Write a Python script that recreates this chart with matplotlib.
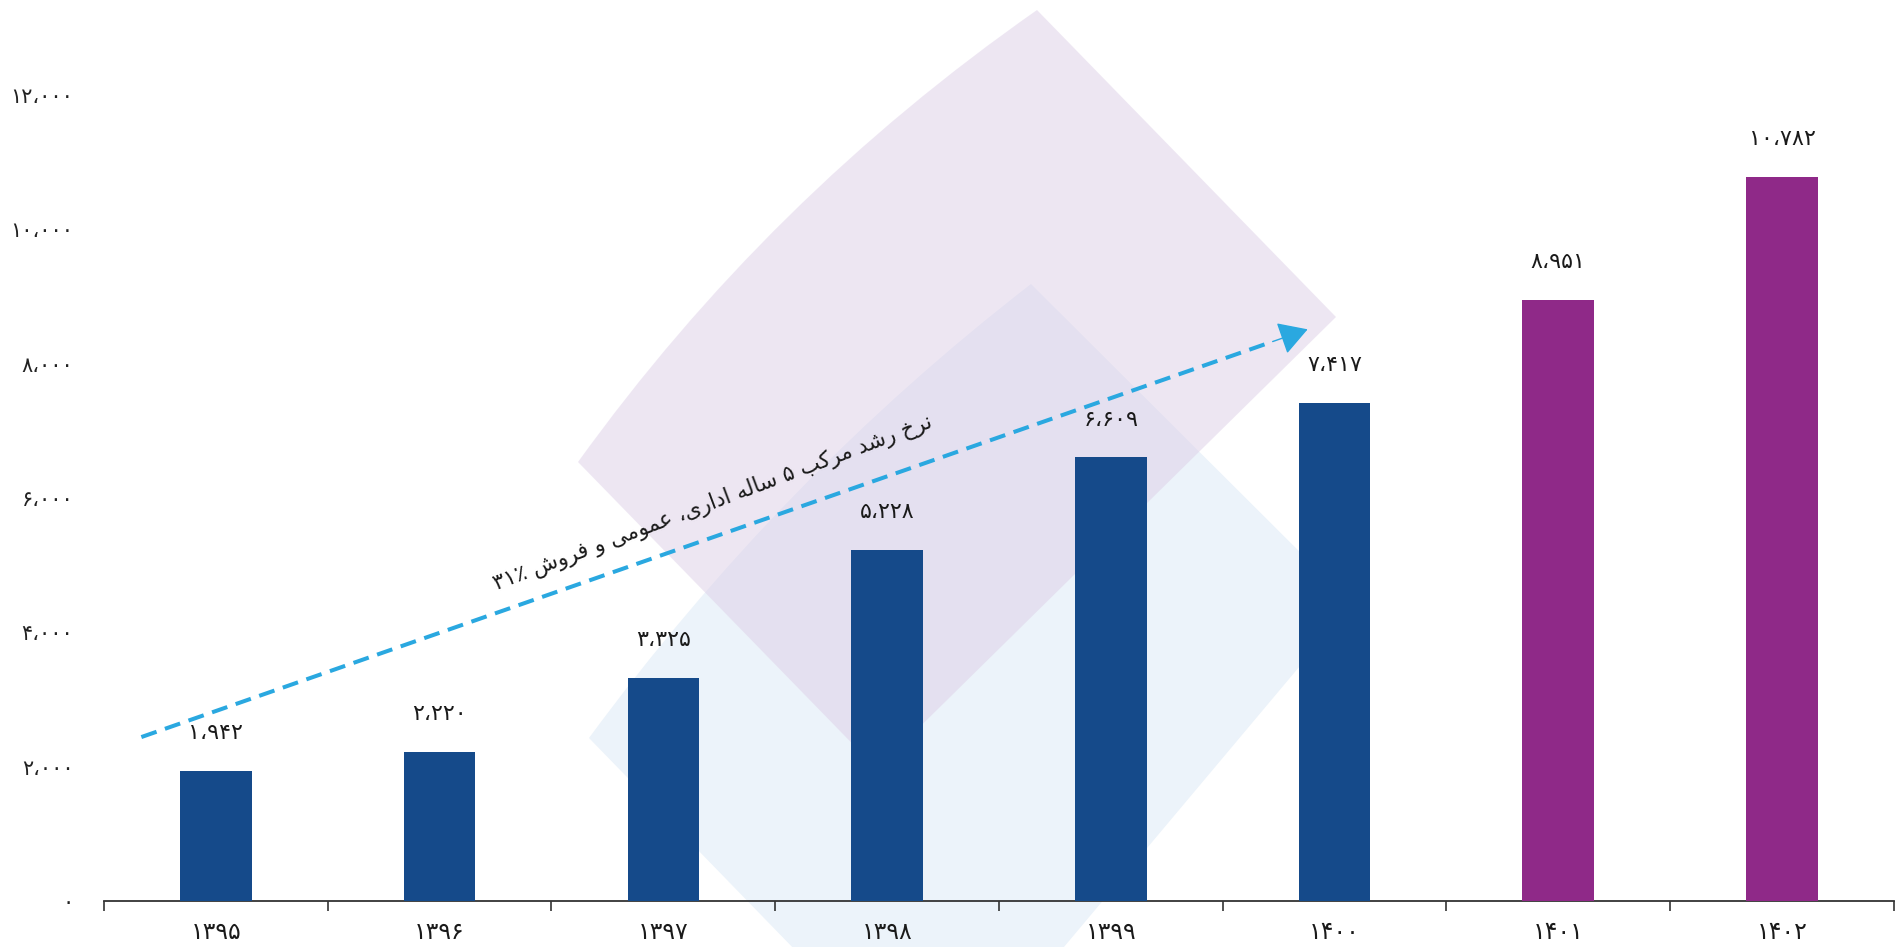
import matplotlib
matplotlib.use("Agg")
import matplotlib.pyplot as plt
from matplotlib.path import Path
from matplotlib.patches import PathPatch

plt.rcParams['font.family'] = ['DejaVu Sans']

# ---------------- data ----------------
years = ['۱۳۹۵', '۱۳۹۶', '۱۳۹۷', '۱۳۹۸', '۱۳۹۹', '۱۴۰۰', '۱۴۰۱', '۱۴۰۲']
values = [1942, 2220, 3325, 5228, 6609, 7417, 8951, 10782]
bar_colors = ['#154A8A'] * 6 + ['#8F2988'] * 2
y_ticks = [0, 2000, 4000, 6000, 8000, 10000, 12000]
note = 'نرخ رشد مرکب ۵ ساله اداری، عمومی و فروش ۳۱٪'
trend_start = (-0.333, 2440)
trend_end = (4.88, 8510)

# ---------------- helpers ----------------
FA_DIGITS = str.maketrans('0123456789,', '۰۱۲۳۴۵۶۷۸۹،')


def fa_num(v):
    return f'{v:,}'.translate(FA_DIGITS)


FORMS = {
    'ا': ('\uFE8D', '\uFE8E', None, None),
    'ب': ('\uFE8F', '\uFE90', '\uFE91', '\uFE92'),
    'خ': ('\uFEA5', '\uFEA6', '\uFEA7', '\uFEA8'),
    'د': ('\uFEA9', '\uFEAA', None, None),
    'ر': ('\uFEAD', '\uFEAE', None, None),
    'س': ('\uFEB1', '\uFEB2', '\uFEB3', '\uFEB4'),
    'ش': ('\uFEB5', '\uFEB6', '\uFEB7', '\uFEB8'),
    'ع': ('\uFEC9', '\uFECA', '\uFECB', '\uFECC'),
    'ف': ('\uFED1', '\uFED2', '\uFED3', '\uFED4'),
    'ل': ('\uFEDD', '\uFEDE', '\uFEDF', '\uFEE0'),
    'م': ('\uFEE1', '\uFEE2', '\uFEE3', '\uFEE4'),
    'ن': ('\uFEE5', '\uFEE6', '\uFEE7', '\uFEE8'),
    'ه': ('\uFEE9', '\uFEEA', '\uFEEB', '\uFEEC'),
    'و': ('\uFEED', '\uFEEE', None, None),
    'ک': ('\uFB8E', '\uFB8F', '\uFB90', '\uFB91'),
    'ی': ('\uFBFC', '\uFBFD', '\uFBFE', '\uFBFF'),
}


def shape_word(w):
    out = []
    for i, c in enumerate(w):
        if c not in FORMS:
            out.append(c)
            continue
        prev = w[i - 1] if i > 0 else None
        nxt = w[i + 1] if i + 1 < len(w) else None
        jp = prev in FORMS and FORMS[prev][2] is not None
        jn = nxt in FORMS and FORMS[c][2] is not None
        iso, fin, ini, med = FORMS[c]
        if jp and jn:
            out.append(med)
        elif jp:
            out.append(fin)
        elif jn:
            out.append(ini)
        else:
            out.append(iso)
    return ''.join(out)


def rtl(text):
    toks = text.split(' ')
    vis = []
    for t in reversed(toks):
        if any(ch in FORMS for ch in t):
            vis.append(shape_word(t)[::-1])
        else:
            vis.append(t)
    return ' '.join(vis)


# ---------------- figure ----------------
fig = plt.figure(figsize=(18.96, 9.47), dpi=100)

# decorative background shapes (pixel coordinates)
bg = fig.add_axes([0, 0, 1, 1], zorder=0)
bg.set_xlim(0, 1896)
bg.set_ylim(947, 0)
bg.axis('off')

blue_path = Path([(589, 738), (780, 478), (1031, 284), (1352, 604), (938, 1097), (589, 738)],
                 [Path.MOVETO, Path.CURVE3, Path.CURVE3, Path.LINETO, Path.LINETO, Path.CLOSEPOLY])
bg.add_patch(PathPatch(blue_path, facecolor='#ECF3FA', edgecolor='none'))
lav_path = Path([(578, 462), (768, 198), (1037, 10), (1336, 317), (877, 769), (578, 462)],
                [Path.MOVETO, Path.CURVE3, Path.CURVE3, Path.LINETO, Path.LINETO, Path.CLOSEPOLY])
bg.add_patch(PathPatch(lav_path, facecolor='#DDCFE7', edgecolor='none', alpha=0.5))

ax = fig.add_axes([0.05485, 0.0486, 0.944, 0.9264], zorder=1)
ax.set_facecolor('none')

x = list(range(len(values)))
ax.bar(x, values, width=0.32, color=bar_colors, zorder=3)

for xi, v in zip(x, values):
    ax.annotate(fa_num(v), (xi, v), xytext=(0, 27), textcoords='offset points',
                ha='center', va='center', fontsize=16, color='#1a1a1a')

ax.set_xlim(-0.5, len(values) - 0.5)
ax.set_ylim(0, 13060)

ax.set_xticks(x)
ax.set_xticklabels(years, fontsize=17, color='#1a1a1a')
ax.set_xticks([i - 0.5 for i in range(len(values) + 1)], minor=True)
ax.tick_params(axis='x', which='major', length=0, pad=14)
ax.tick_params(axis='x', which='minor', length=7, width=1.2, color='#333333')

ax.set_yticks(y_ticks)
ax.set_yticklabels([fa_num(t) for t in y_ticks], fontsize=15, color='#222222')
ax.tick_params(axis='y', length=0, pad=22)

for s in ['left', 'right', 'top']:
    ax.spines[s].set_visible(False)
ax.spines['bottom'].set_color('#333333')
ax.spines['bottom'].set_linewidth(1.3)

# trend arrow
arrow_color = '#2AA8E0'
dx = trend_end[0] - trend_start[0]
dy = trend_end[1] - trend_start[1]
cut = 0.03
line_end = (trend_end[0] - dx * cut, trend_end[1] - dy * cut)
ax.plot([trend_start[0], line_end[0]], [trend_start[1], line_end[1]],
        color=arrow_color, lw=2.9, dashes=(4, 2.2), zorder=4, solid_capstyle='butt')
ax.annotate('', xy=trend_end, xytext=line_end,
            arrowprops=dict(arrowstyle='-|>,head_length=0.6,head_width=0.35',
                            color=arrow_color, lw=1.0,
                            mutation_scale=30, shrinkA=0, shrinkB=0), zorder=4)

ax.text(2.22, 5930, rtl(note), rotation=20.5, rotation_mode='anchor',
        ha='center', va='center', fontsize=15.5, color='#1a1a1a', zorder=5)

fig.savefig('out.png', dpi=100)
